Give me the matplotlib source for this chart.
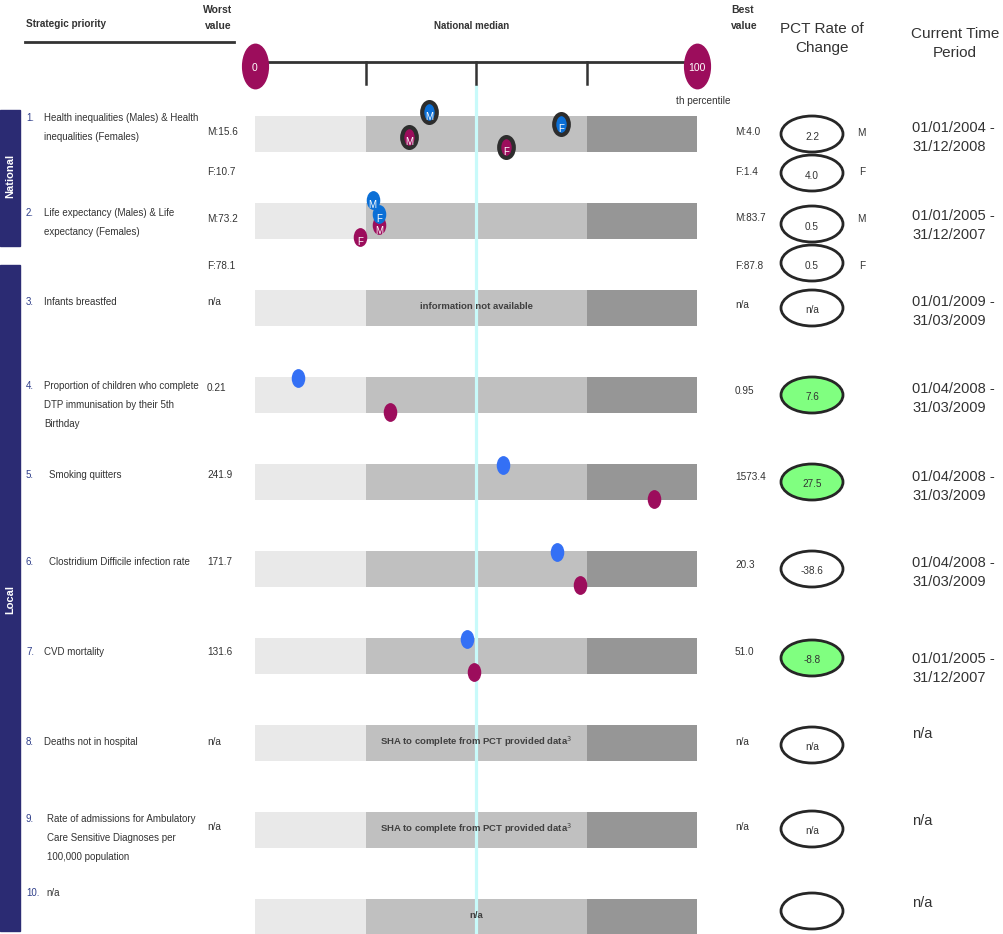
import numpy as np
import matplotlib.pyplot as plt
from matplotlib.patches import Ellipse, Rectangle
from matplotlib.path import Path

PLAIN = ['Liberation Sans', 'DejaVu Sans']

# ---- data -------------------------------------------------------------
priorities = [
    ["Health inequalities (Males) & Health", "inequalities (Females)"],
    ["Life expectancy (Males) & Life", "expectancy (Females)"],
    ["Infants breastfed"],
    ["Proportion of children who complete", "DTP immunisation by their 5th", "Birthday"],
    ["Smoking quitters"],
    ["Clostridium Difficile infection rate"],
    ["CVD mortality"],
    ["Deaths not in hospital"],
    ["Rate of admissions for Ambulatory", "Care Sensitive Diagnoses per", "100,000 population"],
    ["n/a"],
]
worst_values = [("M:15.6", "F:10.7"), ("M:73.2", "F:78.1"), "n/a", "0.21", "241.9",
                "171.7", "131.6", "n/a", "n/a", ""]
best_values = [("M:4.0", "F:1.4"), ("M:83.7", "F:87.8"), "n/a", "0.95", "1573.4",
               "20.3", "51.0", "n/a", "n/a", ""]
rate_of_change = [("2.2", "4.0"), ("0.5", "0.5"), "n/a", "7.6", "27.5",
                  "-38.6", "-8.8", "n/a", "n/a", ""]
improving = [False, False, False, True, True, False, True, False, False, False]
time_periods = [["01/01/2004 -", "31/12/2008"], ["01/01/2005 -", "31/12/2007"],
                ["01/01/2009 -", "31/03/2009"], ["01/04/2008 -", "31/03/2009"],
                ["01/04/2008 -", "31/03/2009"], ["01/04/2008 -", "31/03/2009"],
                ["01/01/2005 -", "31/12/2007"], ["n/a"], ["n/a"], ["n/a"]]
bar_notes = [None, None, "information not available", None, None, None, None,
             "SHA to complete from PCT provided data$^3$",
             "SHA to complete from PCT provided data$^3$", "n/a"]

# percentile positions on the worst(0) -> best(100) scale
blue_rows = [0, 0, 1, 1, 3, 4, 5, 6]
blue_pctl = [39.4, 69.2, 26.6, 28.1, 9.8, 56.0, 68.3, 48.0]
blue_sex = ["M", "F", "M", "F", "", "", "", ""]
plum_rows = [0, 0, 1, 1, 3, 4, 5, 6]
plum_pctl = [34.8, 56.9, 28.1, 23.8, 30.5, 90.3, 73.5, 49.5]
plum_sex = ["M", "F", "M", "F", "", "", "", ""]

band_edges = [0, 25, 75, 100]
scale_ticks = [25, 50, 75]
national_median = 50

# ---- layout / style -----------------------------------------------------
ROW0, ROW_STEP = 134, 87          # pixel centre of first row, row spacing
BAR_H = 0.414
LINE = 19                         # pixel gap between wrapped lines
label_y = [118, 213, 302, 386, 475, 562, 652, 742, 819, 893]
label_x = [44, 44, 44, 44, 49, 49, 44, 44, 47, 46]
worst_y = [(132, 172), (219, 266), 302, 388, 475, 562, 652, 742, 827, 0]
best_y = [(132, 172), (218, 266), 305, 391, 477, 565, 652, 742, 827, 0]
ellipse_y = [(134, 173), (224, 263), 308, 395, 482, 569, 658, 745, 829, 911]
sex_y = [(133, 172), (219, 266)]
period_y = [128, 216, 302, 389, 477, 563, 659, 734, 821, 903]
blue_dy = [-0.25, -0.115, -0.24, -0.08, -0.2, -0.19, -0.19, -0.19]
plum_dy = [0.03, 0.145, 0.05, 0.18, 0.19, 0.2, 0.18, 0.18]
BAND_COLORS = ['#e9e9e9', '#c0c0c0', '#969696']
PLUM = '#9c0d5c'
BLUE = '#3470f5'
DEEP_BLUE = '#0b6fd6'
NAVY = '#2b2b73'
TXT = '#333333'
SMALL = 7.0


unit = Path.unit_circle()
oval = Path(unit.vertices * [0.7, 1.0], unit.codes)
badge = Path(unit.vertices * [0.58, 1.0], unit.codes)

fig = plt.figure(figsize=(10.04, 9.34), dpi=100)
ax = fig.add_axes([0, 0, 1, 1])
ax.set_xlim(0, 1004)
ax.set_ylim(934, 0)
ax.axis('off')

pax = fig.add_axes([255 / 1004, 0, 442 / 1004, 1])
pax.set_xlim(0, 100)
pax.set_ylim((934 - ROW0) / ROW_STEP, -ROW0 / ROW_STEP)
pax.axis('off')
pax.patch.set_alpha(0)


def small(x, y, s, **kw):
    kw.setdefault('fontsize', SMALL)
    kw.setdefault('color', TXT)
    kw.setdefault('va', 'center')
    ax.text(x, y, s, family=PLAIN, **kw)


# ---- headers ------------------------------------------------------------
small(26, 24, "Strategic priority", fontsize=7.2, fontweight='bold')
ax.plot([25, 234], [42, 42], color='#333333', lw=2)
small(232, 10, "Worst", fontsize=7.5, fontweight='bold', ha='right')
small(232, 26, "value", fontsize=7.5, fontweight='bold', ha='right')
small(472, 26, "National median", fontsize=7, fontweight='bold', ha='center')
small(731, 10, "Best", fontsize=7.5, fontweight='bold')
small(731, 26, "value", fontsize=7.5, fontweight='bold')
small(822, 29, "PCT Rate of", fontsize=11, ha='center')
small(822, 48, "Change", fontsize=11, ha='center')
small(955, 34, "Current Time", fontsize=11, ha='center')
small(955, 53, "Period", fontsize=11, ha='center')
small(676, 101, "th percentile", fontsize=7.2)

# percentile scale
sy = (62 - ROW0) / ROW_STEP
pax.plot([0, 100], [sy, sy], color='#333333', lw=2, clip_on=False, zorder=3)
for t in scale_ticks:
    pax.plot([t, t], [sy, (84 - ROW0) / ROW_STEP], color='#333333', lw=1.8,
             clip_on=False, zorder=3)
cy = (66 - ROW0) / ROW_STEP
for v in (0, 100):
    pax.plot(v, cy, marker=badge, ms=32, color=PLUM, ls='none', clip_on=False, zorder=4)
    pax.text(v, cy + 0.02, str(v), color='white', fontsize=7.5, family=PLAIN,
             ha='center', va='center', zorder=5, clip_on=False)

# side tabs
ax.add_patch(Rectangle((0, 110), 20, 136, color=NAVY))
ax.add_patch(Rectangle((0, 265), 20, 666, color=NAVY))
ax.text(10, 176, "National", rotation=90, color='white', fontsize=8,
        fontweight='bold', ha='center', va='center', family=PLAIN)
ax.text(10, 600, "Local", rotation=90, color='white', fontsize=8,
        fontweight='bold', ha='center', va='center', family=PLAIN)

# ---- rows ---------------------------------------------------------------
for i, lines in enumerate(priorities):
    small(26, label_y[i], f"{i + 1}.", color='#2f3f8a')
    for k, line in enumerate(lines):
        small(label_x[i], label_y[i] + k * LINE, line)

    # percentile bands
    for (a, b), c in zip(zip(band_edges[:-1], band_edges[1:]), BAND_COLORS):
        pax.barh(i, b - a, left=a, height=BAR_H, color=c, zorder=1)
    if bar_notes[i]:
        pax.text(50, i - 0.02, bar_notes[i], fontsize=6.8, fontweight='bold', family=PLAIN,
                 color='#404040', ha='center', va='center', zorder=3)

    # worst / best values and rate of change
    w, b, r = worst_values[i], best_values[i], rate_of_change[i]
    if isinstance(w, tuple):
        for k in range(2):
            small(207, worst_y[i][k], w[k], fontsize=7.2)
            small(735, best_y[i][k], b[k], fontsize=7.2)
            ax.add_patch(Ellipse((812, ellipse_y[i][k]), 62, 36, facecolor='white',
                                 edgecolor='#262626', lw=2))
            small(812, ellipse_y[i][k] + 3, r[k], fontsize=7.2, ha='center')
            small(857 + 2 * k, sex_y[i][k], ("M", "F")[k], fontsize=7.2)
    else:
        if w:
            small(207, worst_y[i], w, fontsize=7.2)
            small(735, best_y[i], b, fontsize=7.2)
        ax.add_patch(Ellipse((812, ellipse_y[i]), 62, 36,
                             facecolor='#80ff80' if improving[i] else 'white',
                             edgecolor='#262626', lw=2))
        if r:
            small(812, ellipse_y[i] + 2, r, fontsize=7.2, ha='center')

    # reporting period
    for k, line in enumerate(time_periods[i]):
        small(912, period_y[i] + k * LINE, line, fontsize=10.5)

# national median line
pax.plot([national_median] * 2, [(86 - ROW0) / ROW_STEP, 10], color='#c8fafa',
         lw=2.3, zorder=2)

# ---- markers ------------------------------------------------------------
for rows, vals, sexes, dys, col in ((plum_rows, plum_pctl, plum_sex, plum_dy, PLUM),
                                    (blue_rows, blue_pctl, blue_sex, blue_dy, None)):
    for r, v, s, dy in zip(rows, vals, sexes, dys):
        c = col or (DEEP_BLUE if s else BLUE)
        yy = r + dy
        if r == 0:
            pax.plot(v, yy, marker=oval, ms=15, mfc=c, mec='#2d2d2d', mew=3,
                     ls='none', zorder=5)
        else:
            pax.plot(v, yy, marker=oval, ms=12.5, color=c, ls='none', zorder=5)
        if s:
            pax.text(v, yy + 0.06, s, color='white', fontsize=7, family=PLAIN,
                     ha='center', va='center', zorder=6)

fig.savefig("out.png", dpi=100)
